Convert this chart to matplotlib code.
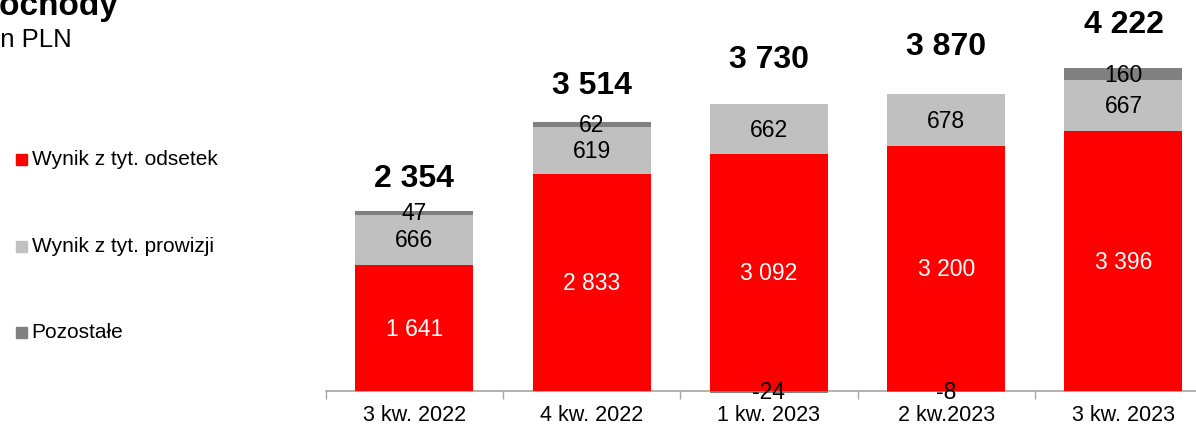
import matplotlib
matplotlib.use('Agg')
import matplotlib.pyplot as plt
from matplotlib.patches import Rectangle
import numpy as np

plt.rcParams['font.family'] = ['Liberation Sans', 'DejaVu Sans']

# Dane (mln PLN)
kwartaly = ['3 kw. 2022', '4 kw. 2022', '1 kw. 2023', '2 kw.2023', '3 kw. 2023']
odsetki = [1641, 2833, 3092, 3200, 3396]
prowizje = [666, 619, 662, 678, 667]
pozostale = [47, 62, -24, -8, 160]
razem = [2354, 3514, 3730, 3870, 4222]

serie = ['Wynik z tyt. odsetek', 'Wynik z tyt. prowizji', 'Pozostałe']
kolory = ['#FF0000', '#C0C0C0', '#808080']


def fmt(v):
    return f'{v:,}'.replace(',', ' ')


W, H = 1196, 427
fig = plt.figure(figsize=(W / 100, H / 100), dpi=100)

# os w pikselach: lewa krawedz 325.6, linia zero na y=392
x0, y0 = 325.6, 392
ax = fig.add_axes([x0 / W, (H - y0) / H, (W - x0) / W, y0 / H])
px_per_unit = 0.0765
step = 177.3

x = np.arange(len(kwartaly))
szer = 0.666
odsetki = np.array(odsetki)
prowizje = np.array(prowizje)
pozostale = np.array(pozostale)

ax.bar(x, odsetki, szer, color=kolory[0], clip_on=False, zorder=2)
ax.bar(x, prowizje, szer, bottom=odsetki, color=kolory[1], clip_on=False, zorder=2)
dol = np.where(pozostale >= 0, odsetki + prowizje, 0)
ax.bar(x, pozostale, szer, bottom=dol, color=kolory[2], clip_on=False, zorder=2)

# etykiety segmentow
for i in x:
    ax.text(i, odsetki[i] / 2, fmt(odsetki[i]), ha='center', va='center',
            color='white', fontsize=16.5)
    ax.text(i, odsetki[i] + prowizje[i] / 2, fmt(prowizje[i]), ha='center',
            va='center', color='black', fontsize=16.5)
    ax.text(i, dol[i] + pozostale[i] / 2, fmt(pozostale[i]), ha='center',
            va='center', color='black', fontsize=16.5, clip_on=False, zorder=3)

# sumy nad slupkami
odstep_px = [33, 37, 45, 48, 44]
for i in x:
    gora = odsetki[i] + prowizje[i] + max(pozostale[i], 0)
    ax.text(i, gora + odstep_px[i] / px_per_unit, fmt(razem[i]), ha='center',
            va='center', fontsize=23, fontweight='bold')

ax.set_xticks(x)
ax.set_xticklabels(kwartaly, fontsize=15.5)
ax.set_xticks(np.arange(-0.5, len(kwartaly) - 1), minor=True)
ax.tick_params(axis='x', which='major', length=0, pad=9.5)
ax.tick_params(axis='x', which='minor', length=6, color='#A6A6A6', width=1)
ax.set_yticks([])
ax.set_xlim(-0.5, -0.5 + (W - x0) / step)
ax.set_ylim(0, y0 / px_per_unit)
for s in ['top', 'right', 'left']:
    ax.spines[s].set_visible(False)
ax.spines['bottom'].set_color('#A6A6A6')
ax.spines['bottom'].set_linewidth(1.2)
ax.spines['bottom'].set_zorder(1)

# tytul (przyciety jak w oryginale)
fig.text(-24 / W, 1 - 14.5 / H, 'Dochody', fontsize=24, fontweight='bold',
         va='baseline', ha='left')
fig.text(-27 / W, 1 - 47 / H, 'mln PLN', fontsize=18.5, va='baseline', ha='left')

# legenda
leg_y = [160, 247, 333]
for nazwa, kol, yy in zip(serie, kolory, leg_y):
    fig.add_artist(Rectangle((16 / W, 1 - (yy + 5.5) / H), 11 / W, 11 / H,
                             transform=fig.transFigure, color=kol))
    fig.text(31.5 / W, 1 - yy / H, nazwa, fontsize=15, va='center', ha='left')

fig.savefig('out.png', dpi=100)
